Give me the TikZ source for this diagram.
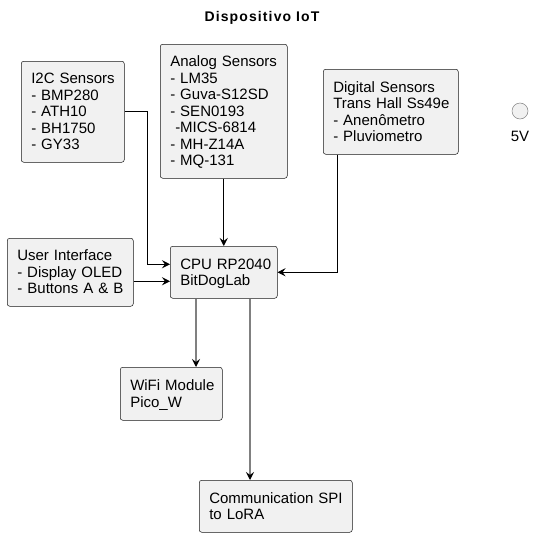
\documentclass[tikz,border=0pt]{standalone}
\usepackage{fontspec}
\setmainfont{Liberation Sans}
\usetikzlibrary{arrows.meta}
\definecolor{boxfill}{HTML}{F1F1F1}
\definecolor{boxline}{HTML}{181818}
\definecolor{grayline}{HTML}{808080}
\newcommand{\toppad}{\rule{0pt}{15pt}}
\newcommand{\boxlines}[1]{\begin{tabular}{@{}l@{}}\toppad #1\end{tabular}}
\begin{document}
\begin{tikzpicture}[x=1pt,y=1pt,
  font=\fontsize{15}{16.5}\selectfont,
  box/.style={draw=boxline, fill=boxfill, line width=0.5pt, rounded corners=2.5pt,
    anchor=north west, align=left, inner xsep=10pt, inner ysep=0pt},
  arr/.style={draw=black, line width=0.8pt, -{Stealth[length=8pt,width=8pt,inset=3pt]}},
  arrg/.style={draw=grayline, line width=1.3pt, -{Stealth[length=8pt,width=8pt,inset=3pt,color=black,fill=black]}}
]
\useasboundingbox (0,0) rectangle (536,-538);
\node[font=\fontsize{14}{16}\selectfont\bfseries\addfontfeatures{LetterSpace=8}] (title) at (262,-18) {Dispositivo IoT};

\node[box, minimum width=103pt, minimum height=101pt, text width=83pt] (i2c) at (21,-61)
  {\boxlines{I2C Sensors\\- BMP280\\- ATH10\\- BH1750\\- GY33}};
\node[box, minimum width=127pt, minimum height=134pt, text width=107pt] (ana) at (160,-44)
  {\boxlines{Analog Sensors\\- LM35\\- Guva-S12SD\\- SEN0193\\\ -MICS-6814\\- MH-Z14A\\- MQ-131}};
\node[box, minimum width=135pt, minimum height=85pt, text width=115pt] (dig) at (323,-69)
  {\boxlines{Digital Sensors\\Trans Hall Ss49e\\- Anenômetro\\- Pluviometro}};
\node[box, minimum width=126pt, minimum height=68pt, text width=106pt] (ui) at (7,-238)
  {\boxlines{User Interface\\- Display OLED\\-\hspace{5.2pt}Buttons A \& B}};
\node[box, minimum width=107pt, minimum height=52pt, text width=87pt] (cpu) at (170,-246)
  {\boxlines{CPU RP2040\\BitDogLab}};
\node[box, minimum width=102pt, minimum height=53pt, text width=82pt] (wifi) at (120,-367)
  {\boxlines{WiFi Module\\Pico\_W}};
\node[box, minimum width=153pt, minimum height=52pt, text width=133pt] (comm) at (199,-480)
  {\boxlines{Communication SPI\\to LoRA}};

\node[circle, draw=grayline, fill=boxfill, line width=0.5pt, minimum size=16pt, inner sep=0pt] (pwr) at (520,-111) {};
\node (pwrl) at (520,-136) {5V};

\coordinate (cin1) at ([yshift=8pt]cpu.west);
\coordinate (cin2) at ([yshift=-9pt]cpu.west);
\coordinate (cout1) at ([xshift=26pt]cpu.south west);
\coordinate (cout2) at ([xshift=80pt]cpu.south west);

\draw[arr] (i2c.east) -- ++(23,0) |- (cin1);
\draw[arr] (ana.south) -- (cpu.north);
\draw[arr] ([xshift=14pt]dig.south west) |- (cpu.east);
\draw[arr] (ui.east |- cin2) -- (cin2);
\draw[arrg] (cout1) -- (cout1 |- wifi.north);
\draw[arrg] (cout2) -- (cout2 |- comm.north);
\end{tikzpicture}
\end{document}
